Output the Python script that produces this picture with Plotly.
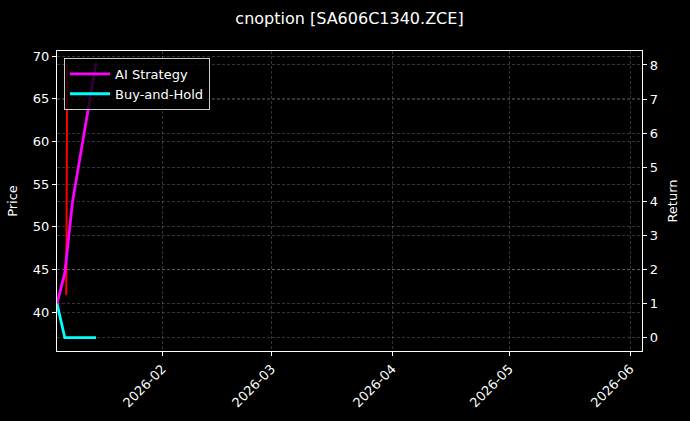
import plotly.graph_objects as go

# 가격 (세로선 하나로 보이는 구간)
price_dates = ['2026-01-07 09:00', '2026-01-07 15:00']
price_vals = [42.0, 69.0]

# 누적 수익률
strat_dates = ['2026-01-05', '2026-01-07', '2026-01-09', '2026-01-15']
strat_vals = [1.0, 1.9, 4.0, 8.05]

bh_dates = ['2026-01-05', '2026-01-07', '2026-01-15']
bh_vals = [1.0, 0.0, 0.0]

tick_dates = ['2026-02-01', '2026-03-01', '2026-04-01', '2026-05-01', '2026-06-01']
tick_labels = ['2026-02', '2026-03', '2026-04', '2026-05', '2026-06']

font = 'DejaVu Sans'
grid = 'rgba(255,255,255,0.2)'

fig = go.Figure()
fig.add_trace(go.Scatter(x=price_dates, y=price_vals, mode='lines', name='Price',
                         line=dict(color='#ff0000', width=2), showlegend=False))
fig.add_trace(go.Scatter(x=strat_dates, y=strat_vals, mode='lines', name='AI Strategy',
                         line=dict(color='#ff00ff', width=2.8), yaxis='y2'))
fig.add_trace(go.Scatter(x=bh_dates, y=bh_vals, mode='lines', name='Buy-and-Hold',
                         line=dict(color='#00ffff', width=2.8), yaxis='y2'))

axis_common = dict(showline=True, linecolor='white', linewidth=1.2,
                   ticks='outside', ticklen=4, tickcolor='white',
                   showgrid=True, gridcolor=grid, griddash='3px,2px', gridwidth=0.8,
                   zeroline=False, tickfont=dict(color='white', size=13, family=font))

fig.update_layout(
    width=690, height=421,
    paper_bgcolor='black', plot_bgcolor='black',
    margin=dict(l=57, r=48, t=51, b=70),
    font=dict(family=font, color='white', size=13),
    title=dict(text='cnoption [SA606C1340.ZCE]', x=0.5, xref='paper',
               y=1 - 18 / 421, yref='container', yanchor='middle',
               font=dict(size=16, color='white', family=font)),
    xaxis=dict(type='date', range=['2026-01-05', '2026-06-04 01:40'],
               tickvals=tick_dates, ticktext=tick_labels, tickangle=-45,
               mirror=True, **axis_common),
    yaxis=dict(range=[35.47, 70.59], dtick=5, tick0=0,
               title=dict(text='Price', standoff=12,
                          font=dict(size=13, color='white', family=font)),
               **axis_common),
    yaxis2=dict(range=[-0.39, 8.41], dtick=1, tick0=0, overlaying='y', side='right',
                title=dict(text='Return', standoff=10,
                           font=dict(size=13, color='white', family=font)),
                **axis_common),
    legend=dict(x=0.012, y=0.977, xanchor='left', yanchor='top',
                bgcolor='rgba(0,0,0,0.8)', bordercolor='#cccccc', borderwidth=1,
                tracegroupgap=4, itemwidth=40,
                font=dict(size=13, color='white', family=font)),
    showlegend=True,
)

fig.write_html('out.html', config={'displayModeBar': False},
               post_script="document.body.style.margin='0';document.body.style.background='black';")
